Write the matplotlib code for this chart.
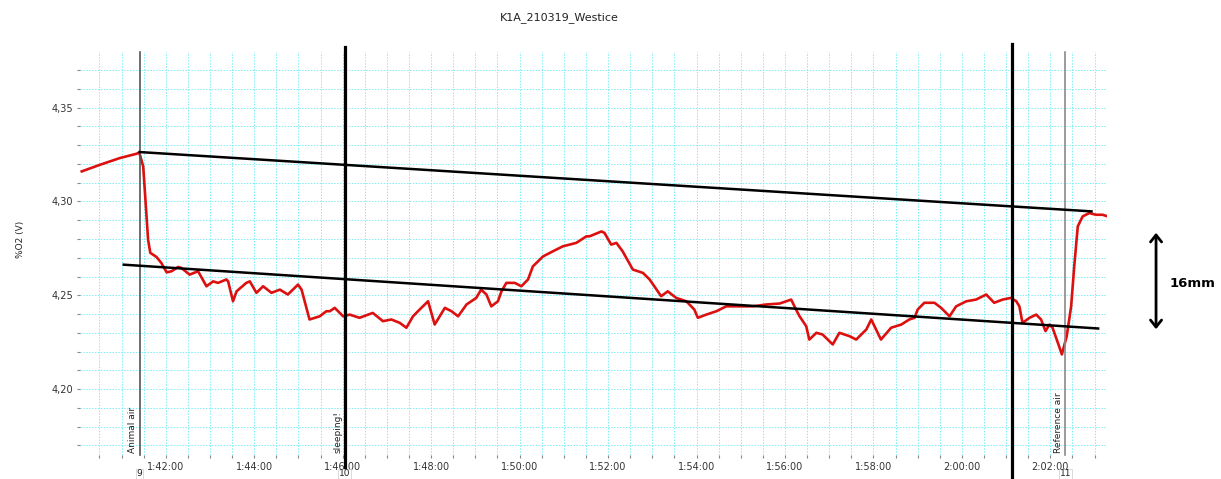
#!/usr/bin/env python3
import matplotlib
matplotlib.use("Agg")
import matplotlib.pyplot as plt
from matplotlib.patches import FancyArrowPatch
from matplotlib.ticker import MultipleLocator, FuncFormatter

# time in minutes after 1:00:00, O2 signal in V
time_min = [40.10, 40.51, 40.96, 41.34, 41.40, 41.49, 41.55, 41.60, 41.65, 41.79,
            41.90, 42.02, 42.13, 42.28, 42.35, 42.54, 42.73, 42.92, 43.07, 43.18,
            43.37, 43.41, 43.52, 43.60, 43.82, 43.90, 44.05, 44.20, 44.39, 44.58,
            44.76, 44.99, 45.07, 45.25, 45.48, 45.63, 45.71, 45.82, 46.01, 46.16,
            46.38, 46.68, 46.91, 47.10, 47.29, 47.44, 47.59, 47.74, 47.93, 48.08,
            48.31, 48.46, 48.61, 48.80, 49.02, 49.13, 49.25, 49.36, 49.51, 49.59,
            49.70, 49.89, 50.04, 50.19, 50.30, 50.53, 50.75, 50.98, 51.28, 51.51,
            51.58, 51.85, 51.92, 52.07, 52.19, 52.33, 52.56, 52.79, 52.94, 53.20,
            53.35, 53.54, 53.77, 53.95, 54.03, 54.22, 54.45, 54.67, 54.97, 55.27,
            55.58, 55.88, 56.14, 56.25, 56.33, 56.48, 56.55, 56.71, 56.85, 57.08,
            57.23, 57.46, 57.61, 57.84, 57.95, 58.17, 58.40, 58.63, 58.81, 58.93,
            59.00, 59.15, 59.38, 59.53, 59.72, 59.87, 60.10, 60.32, 60.55, 60.73,
            60.92, 61.11, 61.23, 61.30, 61.37, 61.53, 61.68, 61.79, 61.89, 61.98,
            62.05, 62.17, 62.26, 62.37, 62.47, 62.54, 62.62, 62.73, 62.88, 63.03,
            63.18, 63.30]
o2_volt = [4.3160, 4.3195, 4.3231, 4.3254, 4.3261, 4.3186, 4.2973, 4.2796, 4.2726, 4.2704,
           4.2672, 4.2622, 4.2628, 4.2651, 4.2646, 4.2610, 4.2628, 4.2548, 4.2574, 4.2566,
           4.2584, 4.2574, 4.2468, 4.2521, 4.2566, 4.2574, 4.2513, 4.2548, 4.2513, 4.2530,
           4.2504, 4.2557, 4.2530, 4.2371, 4.2388, 4.2415, 4.2415, 4.2433, 4.2388, 4.2397,
           4.2380, 4.2406, 4.2362, 4.2371, 4.2353, 4.2327, 4.2388, 4.2424, 4.2468, 4.2344,
           4.2433, 4.2415, 4.2388, 4.2451, 4.2486, 4.2530, 4.2504, 4.2441, 4.2468, 4.2521,
           4.2566, 4.2566, 4.2548, 4.2584, 4.2654, 4.2707, 4.2734, 4.2761, 4.2779, 4.2814,
           4.2814, 4.2840, 4.2832, 4.2770, 4.2779, 4.2734, 4.2637, 4.2619, 4.2584, 4.2495,
           4.2521, 4.2486, 4.2468, 4.2424, 4.2380, 4.2397, 4.2415, 4.2441, 4.2441, 4.2441,
           4.2451, 4.2456, 4.2477, 4.2424, 4.2388, 4.2335, 4.2264, 4.2300, 4.2291, 4.2238,
           4.2300, 4.2282, 4.2264, 4.2318, 4.2371, 4.2264, 4.2327, 4.2344, 4.2371, 4.2380,
           4.2424, 4.2460, 4.2460, 4.2433, 4.2388, 4.2441, 4.2468, 4.2477, 4.2504, 4.2460,
           4.2477, 4.2486, 4.2468, 4.2441, 4.2353, 4.2380, 4.2397, 4.2371, 4.2309, 4.2344,
           4.2327, 4.2247, 4.2185, 4.2282, 4.2441, 4.2654, 4.2867, 4.2920, 4.2938, 4.2929,
           4.2929, 4.2920]

# event markers from the logger
event_times = [41.41, 46.05, 62.34]
event_names = ["Animal air", "sleeping!", "Reference air"]
event_ids = ["9", "10", "11"]

# hand drawn lines
mark_times = [46.05, 61.14]
upper_x = [41.41, 62.93]
upper_y = [4.3263, 4.2947]
lower_x = [41.05, 63.08]
lower_y = [4.2663, 4.2323]


def time_fmt(m, pos):
  h = 1 + int(m // 60)
  mm = int(round(m)) % 60
  return "%d:%02d:00" % (h, mm)


def volt_fmt(v, pos):
  return ("%.2f" % v).replace(".", ",")


fig = plt.figure(figsize=[12.21, 4.79], dpi=100)
ax = fig.add_axes([0.0655, 0.0501, 0.8411, 0.8413])

ax.set_xlim(40.06, 63.28)
ax.set_ylim(4.1649, 4.3796)

# grid
ax.xaxis.set_major_locator(MultipleLocator(2))
ax.xaxis.set_minor_locator(MultipleLocator(0.5))
ax.yaxis.set_major_locator(MultipleLocator(0.05))
ax.yaxis.set_minor_locator(MultipleLocator(0.01))
ax.xaxis.set_major_formatter(FuncFormatter(time_fmt))
ax.yaxis.set_major_formatter(FuncFormatter(volt_fmt))
ax.grid(True, which="both", color="#7eeef5", linestyle=(0, (1.5, 1.5)), linewidth=0.7)
ax.set_axisbelow(True)
for s in ax.spines.values():
  s.set_visible(False)
ax.tick_params(axis="both", which="both", colors="#888888", labelcolor="#333333",
               labelsize=7, length=2, width=0.8, pad=3)

# signal
ax.plot(time_min, o2_volt, color="#dd1010", linewidth=1.9, zorder=3)

# event lines + labels
xt = ax.get_xaxis_transform()
for i in range(len(event_times)):
  c = "#555555" if i == 0 else "#8a8a8a"
  ax.plot([event_times[i], event_times[i]], [0, 1], transform=xt, color=c,
          linewidth=1.2, clip_on=False, zorder=4)
  ax.text(event_times[i] - 0.06, 0.005, event_names[i], transform=xt, rotation=90,
          ha="right", va="bottom", fontsize=6.5, color="#222222", zorder=5)
  ax.text(event_times[i], -0.047, event_ids[i], transform=xt, ha="center", va="center",
          fontsize=6.5, color="#222222", clip_on=False, zorder=6,
          bbox=dict(facecolor="white", edgecolor="#cccccc", linewidth=0.5, pad=0.5))

# thick black markers
ax.plot([mark_times[0]] * 2, [-0.06, 1.012], transform=xt, color="black",
        linewidth=2.3, clip_on=False, zorder=5)
ax.plot([mark_times[1]] * 2, [-0.06, 1.02], transform=xt, color="black",
        linewidth=2.3, clip_on=False, zorder=5)

# trend lines
ax.plot(upper_x, upper_y, color="black", linewidth=1.8, zorder=4)
ax.plot(lower_x, lower_y, color="black", linewidth=1.8, zorder=4)

# title and y label
fig.text(0.458, 0.963, "K1A_210319_Westice", ha="center", va="center", fontsize=8, color="#222222")
fig.text(0.017, 0.5, "%O2 (V)", rotation=90, ha="center", va="center", fontsize=6.5, color="#222222")

# 16mm arrow
fig.add_artist(FancyArrowPatch(
  (0.9468, 0.5198), (0.9468, 0.3069), transform=fig.transFigure,
  arrowstyle="<->,head_length=5,head_width=4", linewidth=2, color="black"))
fig.text(0.9575, 0.409, "16mm", ha="left", va="center", fontsize=9.5, fontweight="bold")

plt.savefig("out.png", dpi=100)
